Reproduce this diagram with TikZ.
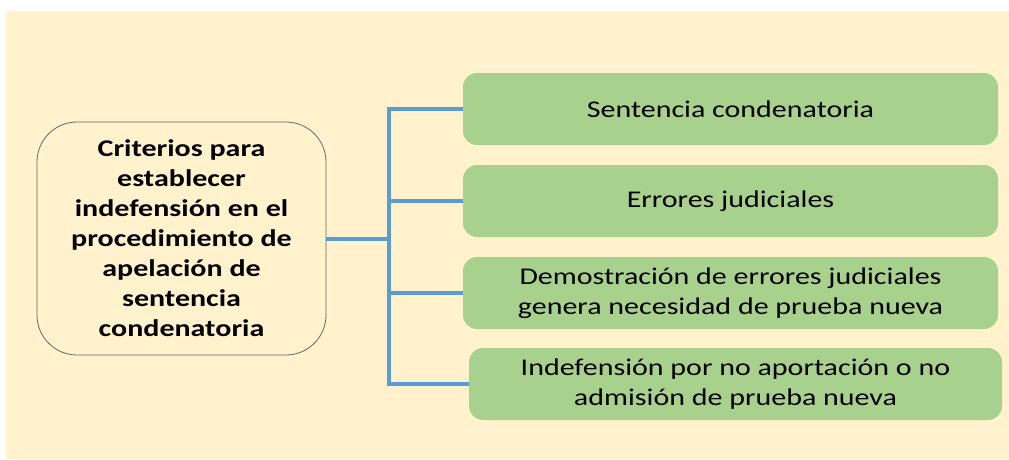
\documentclass[tikz,border=0pt]{standalone}
\usepackage{fontspec}
\setmainfont{Carlito}[FakeStretch=1.25]
\definecolor{cream}{HTML}{FFF2CC}
\definecolor{leafgreen}{HTML}{A9D18E}
\definecolor{linkblue}{HTML}{5B9BD5}
\tikzset{
  mainbox/.style={draw=gray!80!black, line width=0.8pt, fill=cream, rounded corners=40pt,
    minimum width=289pt, minimum height=233pt, align=center,
    font=\fontsize{24}{30}\selectfont\bfseries},
  leafbox/.style={fill=leafgreen, rounded corners=14pt, minimum width=535pt,
    minimum height=72pt, align=center,
    font=\fontsize{24}{30}\selectfont},
  link/.style={linkblue, line width=4pt}
}
\begin{document}
\begin{tikzpicture}[x=1pt,y=-1pt]
  \useasboundingbox (0,0) rectangle (1009,459);
  \fill[cream] (6,11) rectangle (1009,459);
  % criterio central
  \node[mainbox] (crit) at (181.5,238.5) {Criterios para\\establecer\\indefensión en el\\procedimiento de\\apelación de\\sentencia\\condenatoria};
  % ramas
  \node[leafbox] (sent) at (730.5,109) {Sentencia condenatoria};
  \node[leafbox] (err) at (730.5,201) {Errores judiciales};
  \node[leafbox] (dem) at (730.5,293) {Demostración de errores judiciales\\genera necesidad de prueba nueva};
  \node[leafbox, minimum width=533pt] (indef) at (735.5,384) {Indefensión por no aportación o no\\admisión de prueba nueva};
  \coordinate (trunk) at (389,238.5);
  \draw[link] (crit.east) -- (trunk);
  \draw[link] (sent.west) -| (trunk);
  \draw[link] (trunk) |- (err.west);
  \draw[link] (trunk) |- (dem.west);
  \draw[link] (trunk) |- (indef.west);
\end{tikzpicture}
\end{document}
